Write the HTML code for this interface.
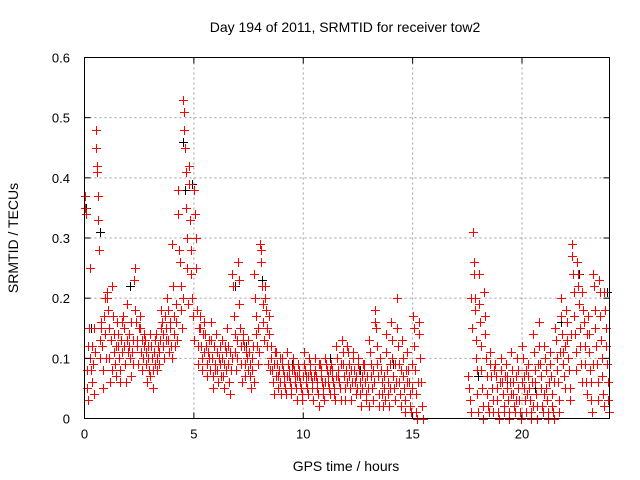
<!DOCTYPE html>
<html><head><meta charset="utf-8"><style>
html,body{margin:0;padding:0;background:#fff}
svg{display:block;font-family:"Liberation Sans",sans-serif}
</style></head><body>
<svg id="chart" width="640" height="480">
<text x="345" y="32" font-size="14" text-anchor="middle">Day 194 of 2011, SRMTID for receiver tow2</text>
<text x="346" y="471" font-size="14" text-anchor="middle">GPS time / hours</text>
<text transform="translate(18,238) rotate(-90)" font-size="14" text-anchor="middle">SRMTID / TECUs</text>
<g id="grid"></g><g id="black"></g><g id="red"></g><g id="axes"></g>
</svg>
<script>
const xTicks=[0,5,10,15,20];
const yTicks=[0,0.1,0.2,0.3,0.4,0.5,0.6];
const binStart=0, binWidth=0.25;
// red series values in hundredths of TECU, one array per 0.25 h bin
const redBins=[
[35,37,34,8,5,12,3,15,25],[10,8,12,6,9,4,15,11],[48,45,42,41,37,33,28,13,10,16],[15,12,8,5,17,20,14,10],
[20,21,18,15,10,6,13,8],[22,17,14,11,9,12,7,16],[14,12,10,8,6,13,16,11],[17,15,12,9,6,13,19,11],
[14,12,10,7,16,11,9,13],[23,25,18,16,13,12,9,15],[17,15,11,8,13,10,12,14],[13,11,9,6,10,12,8,7],
[14,12,10,8,5,11,9,13],[14,10,8,12,9,11,13,15],[18,16,14,12,10,17,15,13],[20,18,13,11,15,16,12,10],
[29,22,17,14,12,16,19,13],[38,34,28,26,22,18,15,20],[53,51,48,45,41,35,30,25,19],[42,39,33,28,24,20,17,13],
[38,34,30,25,18,12,9,15],[17,15,12,10,8,14,11,16],[14,12,9,7,11,13,10,8],[16,13,10,7,5,12,9,8],
[14,11,8,6,10,12,9,7],[13,10,7,5,9,12,11,8],[15,12,9,6,4,11,8,10],[24,22,17,14,11,8,13,10],
[26,23,19,15,12,9,6,13],[14,12,9,7,11,10,8,13],[11,9,7,5,10,8,12,6],[24,20,17,14,12,9,15,11],
[29,28,26,22,19,16,13,20],[22,18,15,12,9,17,14,8],[12,10,8,6,4,9,11,7],[11,9,7,5,8,10,6,4],
[10,9,8,7,6,5,4,7],[11,9,8,7,6,5,4,8],[10,9,8,7,6,5,3,7],[9,8,7,6,5,4,3,7],
[11,9,8,7,6,5,4,7],[10,9,8,7,6,5,3,7],[10,8,7,6,5,4,2,9],[9,8,7,6,5,4,3,6],
[10,9,8,7,6,5,4,8],[9,8,7,6,5,4,3,7],[12,10,8,7,6,5,3,9],[13,11,9,7,5,3,8,6],
[12,11,9,7,5,3,8,6],[11,10,8,6,4,7,5,9],[10,8,6,4,2,7,5,9],[9,8,6,4,3,7,5,2],
[13,11,9,7,5,3,8,6],[18,16,15,12,9,7,4,2],[10,8,6,4,2,7,5,3],[14,11,8,6,4,2,9,5],
[16,13,10,7,5,3,9,6],[20,15,12,9,6,4,2,8],[13,10,7,5,3,1,8,6],[11,8,6,4,2,1,9,5],
[17,15,12,8,4,1,0,6],[16,14,10,6,2,0],[],[],
[],[],[],[],[],[],
[7,5,3,1,20,15],[31,26,24,20,18,13,10,8,4,1],[24,19,16,12,8,5,2,0],[21,17,14,10,7,4,2,1],
[11,9,7,5,3,1,8],[9,7,5,3,1,0,6],[10,8,6,4,2,1,7],[9,7,5,3,1,0,6,4],
[11,8,6,4,2,1,7,3],[10,8,5,3,1,0,6],[12,10,7,5,3,1,8,4],[9,7,5,3,1,0,6,2],
[14,11,8,6,4,2,0,9],[16,12,9,7,5,2,1,4],[12,10,8,5,3,1,0,6],[11,9,7,4,2,1,0,6],
[15,13,10,8,6,3,1,11],[20,17,14,11,9,7,5,12],[18,16,13,10,8,5,3,14],[29,27,24,21,17,14,11,8],
[26,24,22,19,15,12,9,6],[21,18,16,12,9,6,4,14],[17,14,11,8,6,3,1,9],[24,22,18,15,12,9,6,3],
[23,21,17,13,10,7,4,2],[21,18,15,12,9,6,3,1]
];
// black series (mostly hidden behind red)
const blackTimes=[0.05,0.3,0.7,2.1,3.6,4.5,4.6,4.9,6.9,7.4,8.1,9.5,11.2,12.6,14.1,18.0,19.3,20.6,21.8,22.6,23.9];
const blackValues=[0.35,0.15,0.31,0.22,0.14,0.46,0.38,0.39,0.22,0.12,0.23,0.09,0.1,0.08,0.09,0.07,0.06,0.05,0.16,0.24,0.21];

const L=84.5,R=609.5,T=57.5,B=418.5;
const xS=t=>L+(t/24)*(R-L);
const yS=v=>B-(v/0.6)*(B-T);
const NS="http://www.w3.org/2000/svg";
function mk(tag,attrs,parent){const e=document.createElementNS(NS,tag);for(const k in attrs)e.setAttribute(k,attrs[k]);parent.appendChild(e);return e;}
const grid=document.getElementById('grid'),axes=document.getElementById('axes');
xTicks.forEach(t=>{const x=xS(t);
 if(t>0){const g=mk('line',{x1:x,x2:x,y1:T,y2:B,stroke:'#a0a0a0','stroke-dasharray':'2,3'},grid);
 
 }
 mk('line',{x1:x,x2:x,y1:B,y2:B-6,stroke:'#000'},axes);
 mk('line',{x1:x,x2:x,y1:T,y2:T+6,stroke:'#000'},axes);
 const lb=mk('text',{x:x,y:B+20,'font-size':13,'text-anchor':'middle'},axes);lb.textContent=t;
 
 
});
yTicks.forEach(v=>{const y=yS(v);
 if(v>0&&v<0.6){const g=mk('line',{x1:L,x2:R,y1:y,y2:y,stroke:'#a0a0a0','stroke-dasharray':'2,3'},grid);
 
 }
 mk('line',{x1:L,x2:L+6,y1:y,y2:y,stroke:'#000'},axes);
 mk('line',{x1:R,x2:R-6,y1:y,y2:y,stroke:'#000'},axes);
 const lb=mk('text',{x:70,y:y+5,'font-size':13,'text-anchor':'end'},axes);lb.textContent=(v===0?'0':v.toFixed(1));
 
 
});
const frame=mk('rect',{x:L,y:T,width:R-L,height:B-T,fill:'none',stroke:'#000'},axes);


function plus(x,y,color,parent,name){
 const p=mk('path',{d:`M${x-4},${y}h9M${x+0.5},${y-4.5}v9`,stroke:color,'stroke-width':1,fill:'none'},parent);
 
 
}
const blk=document.getElementById('black');
blackTimes.forEach((t,i)=>plus(Math.round(xS(t)),Math.round(yS(blackValues[i]))+0.5,'#000',blk,'black-point'));
const red=document.getElementById('red');
redBins.forEach((vals,b)=>{vals.forEach((v,j)=>{
 const t=binStart+b*binWidth+binWidth*(j+0.5)/vals.length;
 plus(Math.round(xS(t)),Math.round(yS(v/100))+0.5,'#f00',red,'red-point');
});});
</script>
</body></html>
